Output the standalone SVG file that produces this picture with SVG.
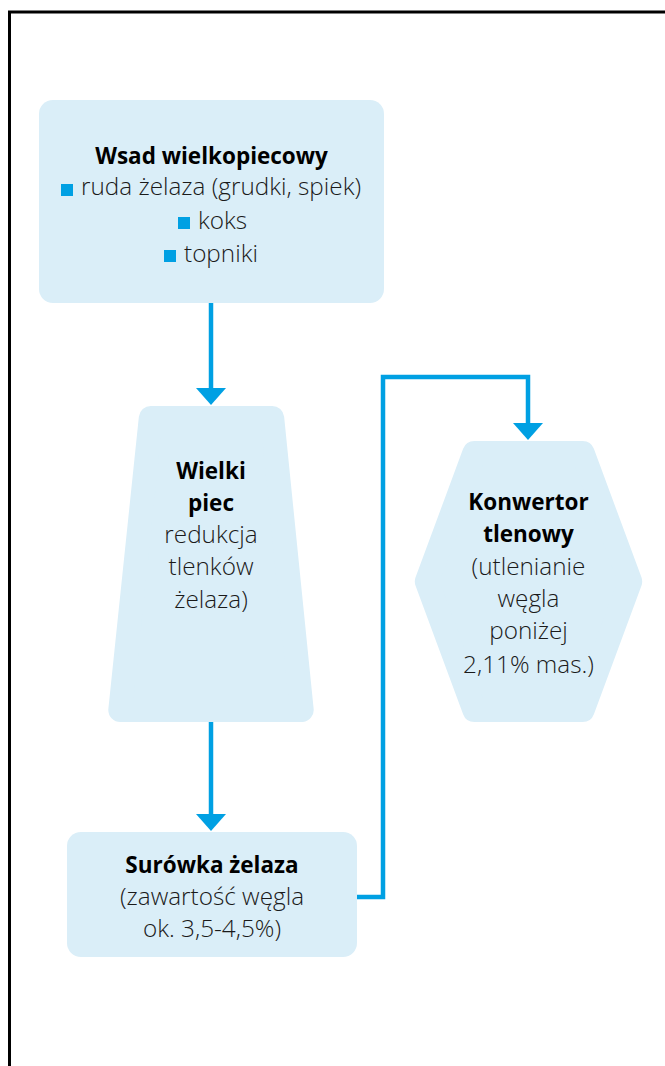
<svg xmlns="http://www.w3.org/2000/svg" width="665" height="1066" viewBox="0 0 665 1066">
<style>
.node{fill:#DAEEF8}
.soft{fill:#DAEEF8;stroke:#DAEEF8;stroke-width:24;stroke-linejoin:round}
.t{font-family:"Open Sans","Liberation Sans",sans-serif;font-size:24.3px;fill:#1a1a1a;font-weight:300}
.b{font-weight:700;fill:#000;font-size:22.5px}
.c{text-anchor:middle}
.bul{fill:#00A0E3}
.con{fill:none;stroke:#00A0E3;stroke-width:4.5}
</style>
<defs>
<marker id="ah" markerUnits="userSpaceOnUse" viewBox="0 0 17 30" markerWidth="17" markerHeight="30" refX="12" refY="15" orient="auto">
<path d="M0,0 L17,15 L0,30 Z" fill="#00A0E3"/>
</marker>
</defs>
<rect x="9.5" y="12" width="700" height="1100" fill="none" stroke="#000" stroke-width="3"/>
<g id="connectors">
<path class="con" d="M211,303 V400" marker-end="url(#ah)"/>
<path class="con" d="M211,722 V826" marker-end="url(#ah)"/>
<path class="con" d="M357,897 H383 V377 H528 V435" marker-end="url(#ah)"/>
</g>
<g id="wsad">
<rect class="node" x="39" y="100" width="345" height="203" rx="14"/>
<text class="t b c" x="211.5" y="164">Wsad wielkopiecowy</text>
<rect class="bul" x="61" y="184" width="12" height="12"/>
<text class="t" x="81" y="195">ruda żelaza (grudki, spiek)</text>
<rect class="bul" x="178" y="217" width="12" height="12"/>
<text class="t" x="198" y="229">koks</text>
<rect class="bul" x="164" y="250" width="12" height="12"/>
<text class="t" x="184" y="262">topniki</text>
</g>
<g id="wielki-piec">
<polygon class="soft" points="150.8,418 272.2,418 301.7,710 120.3,710"/>
<text class="t c" x="211" y="479"><tspan class="b">Wielki</tspan><tspan class="b" x="211" dy="32">piec</tspan><tspan x="211" dy="32">redukcja</tspan><tspan x="211" dy="32">tlenków</tspan><tspan x="211" dy="33">żelaza)</tspan></text>
</g>
<g id="konwertor">
<polygon class="soft" points="474.36,453 582.64,453 630.19,581.5 582.64,710 474.36,710 426.81,581.5"/>
<text class="t c" x="528.5" y="510"><tspan class="b">Konwertor</tspan><tspan class="b" x="528.5" dy="32">tlenowy</tspan><tspan x="528.5" dy="33">(utlenianie</tspan><tspan x="528.5" dy="32">węgla</tspan><tspan x="528.5" dy="32">poniżej</tspan><tspan x="528.5" dy="34">2,11% mas.)</tspan></text>
</g>
<g id="surowka">
<rect class="node" x="67" y="832" width="290" height="125" rx="14"/>
<text class="t c" x="212" y="873"><tspan class="b">Surówka żelaza</tspan><tspan x="212" dy="32">(zawartość węgla</tspan><tspan x="212" dy="32">ok. 3,5-4,5%)</tspan></text>
</g>
</svg>
